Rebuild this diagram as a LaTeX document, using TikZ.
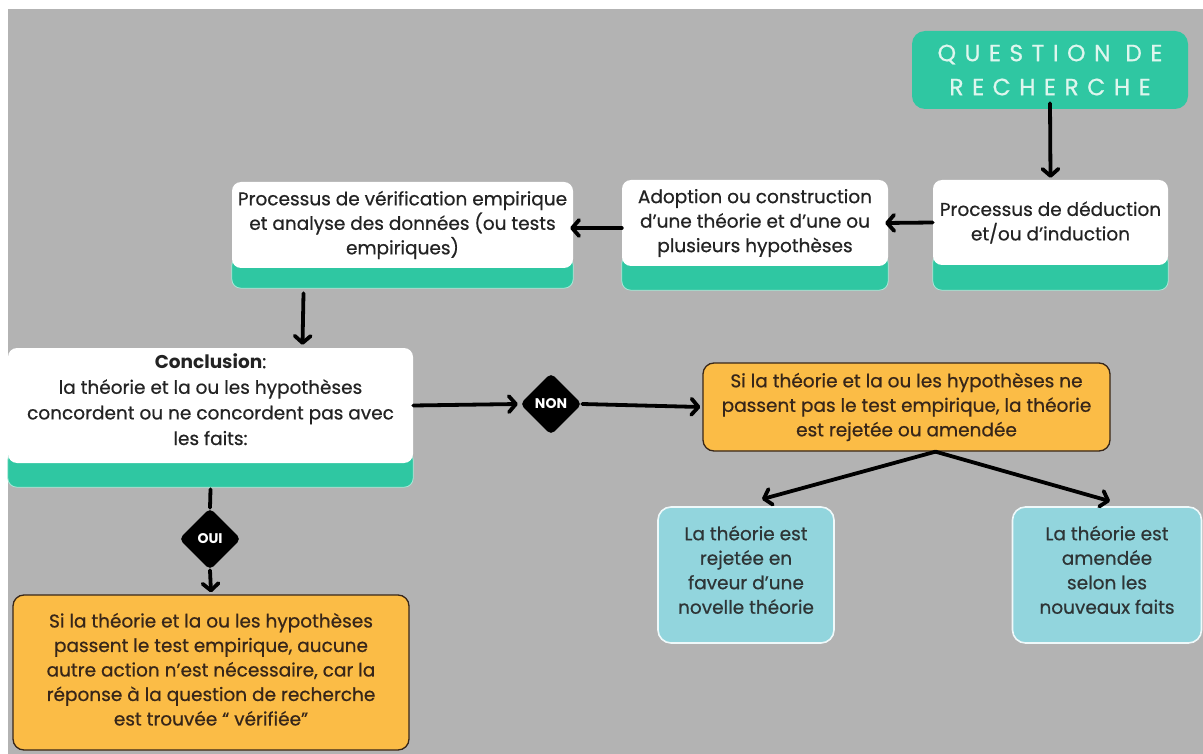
\documentclass[tikz,border=0pt]{standalone}
\usepackage{fontspec}
\setmainfont{Poppins}[UprightFeatures={FakeBold=0.6}]
\usetikzlibrary{arrows.meta,shapes.geometric,backgrounds}
\definecolor{bg}{RGB}{179,179,179}
\definecolor{tealc}{RGB}{47,199,162}
\definecolor{orangec}{RGB}{251,188,70}
\definecolor{bluec}{RGB}{146,213,221}
\definecolor{txt}{RGB}{35,35,35}
\definecolor{brownc}{RGB}{55,38,25}
\definecolor{mint}{RGB}{222,246,238}
\pgfdeclarelayer{strip}
\pgfsetlayers{background,strip,main}
\tikzset{
  card/.style={fill=white, rounded corners=9pt, align=center, text=txt, inner sep=0pt},
  cardstrip/.style={fill=tealc, rounded corners=9pt, draw=mint!70!tealc, line width=0.8pt},
  obox/.style={fill=orangec, draw=brownc, line width=1.3pt, rounded corners=11pt, align=center, text=brownc, inner sep=0pt},
  bbox/.style={fill=bluec, draw=white!85!bluec, line width=1.6pt, rounded corners=13pt, align=center, text=txt!90!bluec, inner sep=0pt},
  dia/.style={diamond, fill=black, minimum width=62pt, minimum height=62pt, inner sep=0pt, rounded corners=5pt, text=white, font=\fontsize{14}{14}\selectfont\bfseries},
  arr/.style={-{Straight Barb[length=7pt,width=16pt,round]}, line width=3.8pt, line cap=round, draw=black},
  plain/.style={line width=3.8pt, line cap=round, draw=black}
}
\begin{document}
\begin{tikzpicture}[x=1pt,y=-1pt, font=\fontsize{18.5}{24.5}\selectfont]
\useasboundingbox (0,0) rectangle (1203,754);
\begin{pgfonlayer}{background}
\fill[white] (0,0) rectangle (1203,754);
\fill[bg] (8,9) rectangle (1203,754);
\end{pgfonlayer}

% header
\node[fill=tealc, rounded corners=13pt, minimum width=276pt, minimum height=78pt, inner sep=0pt,
      text=mint, align=center, font=\fontsize{23.5}{34}\selectfont\addfontfeatures{LetterSpace=36,FakeBold=0}]
      (qst) at (1050,70) {QUESTION DE\\RECHERCHE};

% cards
\node[card, minimum width=235pt, minimum height=85pt] (ded) at (1050.5,222.5)
  {Processus de déduction\\et/ou d’induction};
\node[card, minimum width=266pt, minimum height=86pt] (ado) at (755,223)
  {Adoption ou construction\\d’une théorie et d’une ou\\plusieurs hypothèses};
\node[card, minimum width=341pt, minimum height=86pt] (ver) at (402.5,225)
  {Processus de vérification empirique\\et analyse des données (ou tests\\empiriques)};
\node[card, minimum width=405pt, minimum height=115pt, font=\fontsize{18.5}{25.6}\selectfont] (conc) at (210.5,405.5)
  {\textbf{Conclusion}:\\la théorie et la ou les hypothèses\\concordent ou ne concordent pas avec\\les faits:\\[-13pt]\mbox{}};

\begin{pgfonlayer}{strip}
\path[cardstrip] ([yshift=12pt]ded.south west) rectangle ([yshift=-25pt]ded.south east);
\path[cardstrip] ([yshift=12pt]ado.south west) rectangle ([yshift=-24pt]ado.south east);
\path[cardstrip] ([yshift=12pt]ver.south west) rectangle ([yshift=-20pt]ver.south east);
\path[cardstrip] ([yshift=12pt]conc.south west) rectangle ([yshift=-24pt]conc.south east);
\end{pgfonlayer}

% decisions
\node[dia] (non) at (551,404) {NON};
\node[dia] (oui) at (210,539) {OUI};

% orange boxes
\node[obox, minimum width=407pt, minimum height=88pt] (onon) at (906.5,407)
  {Si la théorie et la ou les hypothèses ne\\passent pas le test empirique, la théorie\\est rejetée ou amendée};
\node[obox, minimum width=396pt, minimum height=155pt] (ooui) at (211,672.5)
  {Si la théorie et la ou les hypothèses\\passent le test empirique, aucune\\autre action n’est nécessaire, car la\\réponse à la question de recherche\\est trouvée “ vérifiée”\\[-18pt]\mbox{}};

% blue boxes
\node[bbox, minimum width=176pt, minimum height=136pt] (brej) at (746,575)
  {La théorie est\\rejetée en\\faveur d’une\\novelle théorie\\[-14pt]\mbox{}};
\node[bbox, minimum width=189pt, minimum height=136pt] (bame) at (1107,575)
  {La théorie est\\amendée\\selon les\\nouveaux faits\\[-14pt]\mbox{}};

\coordinate (split) at ([xshift=29pt]onon.south);

% connectors
\draw[arr] ([yshift=6pt]qst.south) -- ([yshift=2pt]ded.north);
\draw[arr] (ded.west) -- ([xshift=-3pt]ado.east);
\draw[arr] (ado.west |- 0,228) -- ([xshift=-3pt]ver.east |- 0,228);
\draw[arr] ([xshift=-99pt,yshift=-25pt]ver.south) -- ([xshift=92pt,yshift=3pt]conc.north);
\draw[arr] (conc.east) -- ([xshift=-2pt]non.west);
\draw[arr] (non.east) -- ([xshift=-2pt]onon.west);
\draw[plain] ([yshift=-26pt]conc.south) -- (oui.north);
\draw[arr] (oui.south) -- ([yshift=2pt]ooui.north);
\draw[arr] (split) -- ([xshift=16pt,yshift=7pt]brej.north);
\draw[arr] (split) -- ([xshift=3pt,yshift=5pt]bame.north);
\end{tikzpicture}
\end{document}
